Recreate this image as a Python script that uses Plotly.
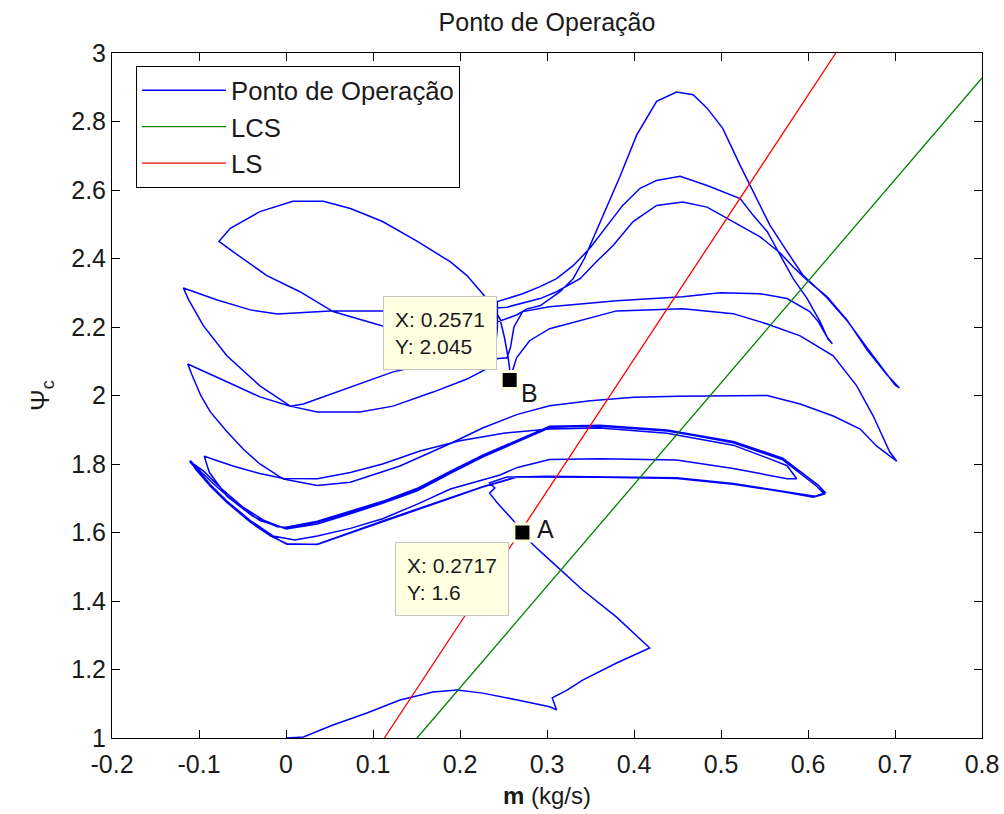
import plotly.graph_objects as go

# Trajetória do ponto de operação: vazão mássica m (kg/s) x coeficiente de pressão Psi_c
# Partida: da origem até o ponto A
partida = [
    (0.0, 1.0), (0.02, 1.003), (0.054, 1.038), (0.093, 1.073), (0.131, 1.111),
    (0.169, 1.134), (0.197, 1.14), (0.226, 1.131), (0.266, 1.111), (0.303, 1.091),
    (0.311, 1.082), (0.306, 1.117), (0.323, 1.14), (0.341, 1.169), (0.38, 1.219),
    (0.418, 1.263), (0.38, 1.353), (0.341, 1.432), (0.303, 1.52), (0.284, 1.564),
    (0.2717, 1.6), (0.261, 1.636), (0.243, 1.686), (0.234, 1.715), (0.24, 1.73),
    (0.234, 1.745), (0.254, 1.762),
]

# Ciclos de surge de menor amplitude (faixa inferior)
ciclos_baixos = [
    (0.30, 1.762), (0.361, 1.761), (0.449, 1.758), (0.514, 1.741), (0.576, 1.717),
    (0.606, 1.703), (0.619, 1.712),
    (0.613, 1.735), (0.593, 1.775), (0.571, 1.814), (0.514, 1.864), (0.438, 1.896),
    (0.361, 1.91), (0.303, 1.908), (0.266, 1.867), (0.226, 1.823), (0.189, 1.776),
    (0.151, 1.726), (0.111, 1.688), (0.074, 1.659), (0.036, 1.63), (0.0, 1.612),
    (-0.03, 1.635), (-0.055, 1.68), (-0.078, 1.73), (-0.097, 1.775), (-0.11, 1.81),
    (-0.104, 1.785), (-0.087, 1.735), (-0.068, 1.688), (-0.041, 1.63), (-0.018, 1.59),
    (0.001, 1.567), (0.036, 1.565),
    (0.074, 1.598), (0.111, 1.632), (0.151, 1.665), (0.189, 1.70), (0.226, 1.733),
    (0.266, 1.762), (0.30, 1.764),
    (0.361, 1.763), (0.449, 1.76), (0.514, 1.743), (0.576, 1.719), (0.608, 1.706),
    (0.62, 1.716),
    (0.612, 1.738), (0.571, 1.817), (0.514, 1.866), (0.438, 1.899), (0.361, 1.913),
    (0.303, 1.91), (0.266, 1.87), (0.226, 1.826), (0.189, 1.779), (0.151, 1.729),
    (0.111, 1.691), (0.074, 1.662), (0.036, 1.633), (0.0, 1.615),
    (-0.01, 1.617), (-0.038, 1.647), (-0.068, 1.706), (-0.088, 1.775), (-0.094, 1.823),
    (-0.084, 1.814), (-0.061, 1.794), (-0.03, 1.772), (-0.003, 1.758), (0.036, 1.757),
    (0.074, 1.775), (0.111, 1.80), (0.154, 1.838), (0.2, 1.868), (0.25, 1.89),
    (0.303, 1.902), (0.361, 1.905), (0.438, 1.89), (0.514, 1.855), (0.556, 1.815),
    (0.576, 1.795), (0.587, 1.757),
    (0.576, 1.757), (0.545, 1.772), (0.514, 1.787), (0.449, 1.812), (0.361, 1.815),
    (0.303, 1.813), (0.266, 1.79), (0.246, 1.768), (0.189, 1.727), (0.151, 1.683),
    (0.111, 1.64), (0.074, 1.612), (0.036, 1.59), (0.01, 1.578), (-0.015, 1.59),
    (-0.041, 1.635), (-0.068, 1.692), (-0.087, 1.74), (-0.103, 1.785), (-0.109, 1.805),
    (-0.095, 1.78), (-0.075, 1.73), (-0.05, 1.675), (-0.025, 1.635), (0.0, 1.61),
    (0.036, 1.625), (0.074, 1.655), (0.111, 1.685), (0.151, 1.722), (0.189, 1.773),
    (0.226, 1.82), (0.266, 1.865), (0.303, 1.906), (0.361, 1.912), (0.438, 1.898),
    (0.514, 1.862), (0.571, 1.812), (0.61, 1.735), (0.618, 1.714),
    (0.607, 1.704), (0.576, 1.718), (0.514, 1.742), (0.449, 1.759), (0.361, 1.762),
    (0.3, 1.763), (0.266, 1.763), (0.226, 1.734), (0.189, 1.702), (0.151, 1.667),
    (0.111, 1.634), (0.074, 1.6), (0.036, 1.566), (0.001, 1.566), (-0.018, 1.592),
    (-0.041, 1.632), (-0.068, 1.69), (-0.087, 1.737), (-0.105, 1.788), (-0.111, 1.808),
]

# Ciclos de surge de maior amplitude (faixa superior), partindo do ponto B
ciclos_altos = [
    (0.2571, 2.045), (0.257, 2.08), (0.255, 2.116), (0.251, 2.17), (0.246, 2.224),
    (0.236, 2.265), (0.226, 2.297), (0.208, 2.35), (0.189, 2.39), (0.151, 2.45),
    (0.111, 2.508), (0.074, 2.546), (0.043, 2.567), (0.008, 2.567), (-0.03, 2.537),
    (-0.064, 2.488), (-0.077, 2.45),
    (-0.061, 2.42), (-0.022, 2.35), (0.016, 2.303), (0.054, 2.245), (0.093, 2.215),
    (0.111, 2.203), (0.15, 2.198), (0.2, 2.2), (0.24, 2.212), (0.265, 2.235),
    (0.277, 2.253), (0.292, 2.262), (0.315, 2.303), (0.33, 2.341), (0.343, 2.4),
    (0.355, 2.47), (0.368, 2.55), (0.384, 2.64), (0.403, 2.76), (0.426, 2.859),
    (0.449, 2.886), (0.468, 2.878), (0.484, 2.839), (0.502, 2.78), (0.522, 2.672),
    (0.541, 2.577), (0.556, 2.498), (0.576, 2.42), (0.594, 2.352), (0.622, 2.285),
    (0.645, 2.218), (0.668, 2.139), (0.686, 2.08), (0.7, 2.031), (0.705, 2.022),
    (0.691, 2.06), (0.668, 2.133), (0.645, 2.22), (0.622, 2.288), (0.599, 2.337),
    (0.583, 2.375), (0.568, 2.416), (0.545, 2.463), (0.507, 2.518), (0.484, 2.55),
    (0.456, 2.565), (0.426, 2.555), (0.399, 2.508), (0.376, 2.438), (0.357, 2.391),
    (0.338, 2.341), (0.311, 2.303), (0.292, 2.283), (0.254, 2.258), (0.2, 2.248),
    (0.111, 2.247), (0.051, 2.247), (-0.01, 2.238), (-0.041, 2.25), (-0.079, 2.279),
    (-0.118, 2.314),
    (-0.112, 2.28), (-0.095, 2.204), (-0.068, 2.116), (-0.03, 2.028), (0.005, 1.969),
    (0.036, 1.952), (0.085, 1.952), (0.123, 1.969), (0.169, 2.01), (0.208, 2.048),
    (0.232, 2.08), (0.24, 2.12), (0.243, 2.2), (0.243, 2.274),
    (0.272, 2.297), (0.292, 2.318), (0.311, 2.341), (0.33, 2.379), (0.349, 2.429),
    (0.369, 2.496), (0.387, 2.555), (0.407, 2.605), (0.426, 2.628), (0.453, 2.64),
    (0.484, 2.613), (0.522, 2.575), (0.537, 2.526), (0.553, 2.479), (0.568, 2.408),
    (0.583, 2.341), (0.599, 2.283), (0.614, 2.215), (0.623, 2.165), (0.628, 2.151),
    (0.622, 2.17), (0.612, 2.215), (0.602, 2.245), (0.576, 2.283), (0.545, 2.297),
    (0.499, 2.3), (0.456, 2.288), (0.38, 2.277), (0.303, 2.259), (0.272, 2.245),
    (0.262, 2.2), (0.258, 2.14), (0.254, 2.11),
    (0.2, 2.098), (0.154, 2.086), (0.123, 2.069), (0.085, 2.035), (0.047, 2.0),
    (0.02, 1.975), (0.005, 1.969), (-0.03, 1.996), (-0.068, 2.04), (-0.095, 2.07),
    (-0.113, 2.092),
    (-0.108, 2.06), (-0.098, 2.0), (-0.087, 1.952), (-0.068, 1.895), (-0.049, 1.843),
    (-0.03, 1.80), (-0.003, 1.756), (0.036, 1.737), (0.074, 1.747), (0.131, 1.794),
    (0.189, 1.86), (0.226, 1.905), (0.266, 1.945), (0.303, 1.97), (0.35, 1.985),
    (0.4, 1.995), (0.45, 1.998), (0.5, 2.0), (0.553, 2.0), (0.591, 1.975),
    (0.629, 1.94), (0.66, 1.902), (0.679, 1.852), (0.702, 1.808),
    (0.694, 1.835), (0.675, 1.94), (0.656, 2.028), (0.629, 2.116), (0.591, 2.174),
    (0.553, 2.209), (0.514, 2.239), (0.456, 2.253), (0.38, 2.247), (0.303, 2.195),
    (0.28, 2.16), (0.265, 2.11), (0.2571, 2.045),
]

# Linha de controle de surge (LCS) e linha de surge (LS)
m_lcs = [0.1506, 0.8]
psi_lcs = [1.0, 2.927]
m_ls = [0.113, 0.632]
psi_ls = [1.0, 3.0]

# Pontos marcados no gráfico
rotulos = ["A", "B"]
m_pontos = [0.2717, 0.2571]
psi_pontos = [1.6, 2.045]

# Marcas dos eixos
x_ticks = [-0.2, -0.1, 0, 0.1, 0.2, 0.3, 0.4, 0.5, 0.6, 0.7, 0.8]
x_ticktext = ["-0.2", "-0.1", "0", "0.1", "0.2", "0.3", "0.4", "0.5", "0.6", "0.7", "0.8"]
y_ticks = [1, 1.2, 1.4, 1.6, 1.8, 2, 2.2, 2.4, 2.6, 2.8, 3]
y_ticktext = ["1", "1.2", "1.4", "1.6", "1.8", "2", "2.2", "2.4", "2.6", "2.8", "3"]

FONTE = "Liberation Sans, Arial, Helvetica, sans-serif"
TEXTO = "#1a1a1a"

# Junta os trechos da trajetória em uma única curva (trechos separados por None)
m_traj, psi_traj = [], []
for trecho in (partida + ciclos_baixos, ciclos_altos):
    if m_traj:
        m_traj.append(None)
        psi_traj.append(None)
    m_traj += [p[0] for p in trecho]
    psi_traj += [p[1] for p in trecho]

fig = go.Figure()
fig.add_trace(go.Scatter(x=m_traj, y=psi_traj, mode="lines", name="Ponto de Operação",
                         legendgroup="op", line=dict(color="#0000ff", width=1.5)))
fig.add_trace(go.Scatter(x=m_lcs, y=psi_lcs, mode="lines", name="LCS",
                         legendgroup="lcs", line=dict(color="#008000", width=1.3)))
fig.add_trace(go.Scatter(x=m_ls, y=psi_ls, mode="lines", name="LS",
                         legendgroup="ls", line=dict(color="#ff0000", width=1.3)))
fig.add_trace(go.Scatter(x=m_pontos, y=psi_pontos, mode="markers", showlegend=False,
                         marker=dict(symbol="square", size=17, color="black",
                                     line=dict(color="#fffbe0", width=3))))

# Caixas de dados e rótulos dos pontos A e B
caixa = [
    dict(xanchor="right", yanchor="top", xshift=-13, yshift=-9),
    dict(xanchor="right", yanchor="bottom", xshift=-13, yshift=10),
]
rotulo_pos = [(23, 4), (20, -13)]
for i in range(len(rotulos)):
    fig.add_annotation(x=m_pontos[i], y=psi_pontos[i], xref="x", yref="y",
                       text=f"X: {m_pontos[i]:g}<br>Y: {psi_pontos[i]:g}",
                       showarrow=False, align="left",
                       bgcolor="#ffffe1", bordercolor="#c4c4c4", borderwidth=1, borderpad=11,
                       font=dict(family=FONTE, size=21, color=TEXTO), **caixa[i])
    fig.add_annotation(x=m_pontos[i], y=psi_pontos[i], xref="x", yref="y",
                       text=rotulos[i], showarrow=False, xanchor="center", yanchor="middle",
                       xshift=rotulo_pos[i][0], yshift=rotulo_pos[i][1],
                       font=dict(family=FONTE, size=25, color=TEXTO))

eixo = dict(showline=True, linecolor="black", linewidth=1, mirror="allticks",
            ticks="inside", ticklen=8, tickcolor="black", showgrid=False, zeroline=False,
            automargin=False, tickfont=dict(family=FONTE, size=25, color=TEXTO))

fig.update_layout(
    width=1004, height=814,
    margin=dict(l=112, r=22, t=53, b=76),
    paper_bgcolor="white", plot_bgcolor="white",
    font=dict(family=FONTE, size=25, color=TEXTO),
    title=dict(text="Ponto de Operação", x=0.5, xref="paper", xanchor="center",
               y=1 - 22 / 814, yref="container", yanchor="middle", automargin=False,
               font=dict(family=FONTE, size=25, color=TEXTO)),
    xaxis=dict(range=[-0.2, 0.8], tickvals=x_ticks, ticktext=x_ticktext, ticklabelstandoff=4,
               title=dict(text="<b>m</b> (kg/s)", standoff=10,
                          font=dict(family=FONTE, size=24, color=TEXTO)), **eixo),
    yaxis=dict(range=[1, 3], tickvals=y_ticks, ticktext=y_ticktext,
               title=dict(text="Ψ<sub>c</sub>", standoff=14,
                          font=dict(family=FONTE, size=26, color=TEXTO)), **eixo),
    legend=dict(x=0.0276, y=0.981, xanchor="left", yanchor="top",
                bgcolor="white", bordercolor="black", borderwidth=1,
                tracegroupgap=0, itemwidth=84,
                font=dict(family=FONTE, size=25.7, color=TEXTO)),
    showlegend=True,
)

fig.write_html("out.html")
